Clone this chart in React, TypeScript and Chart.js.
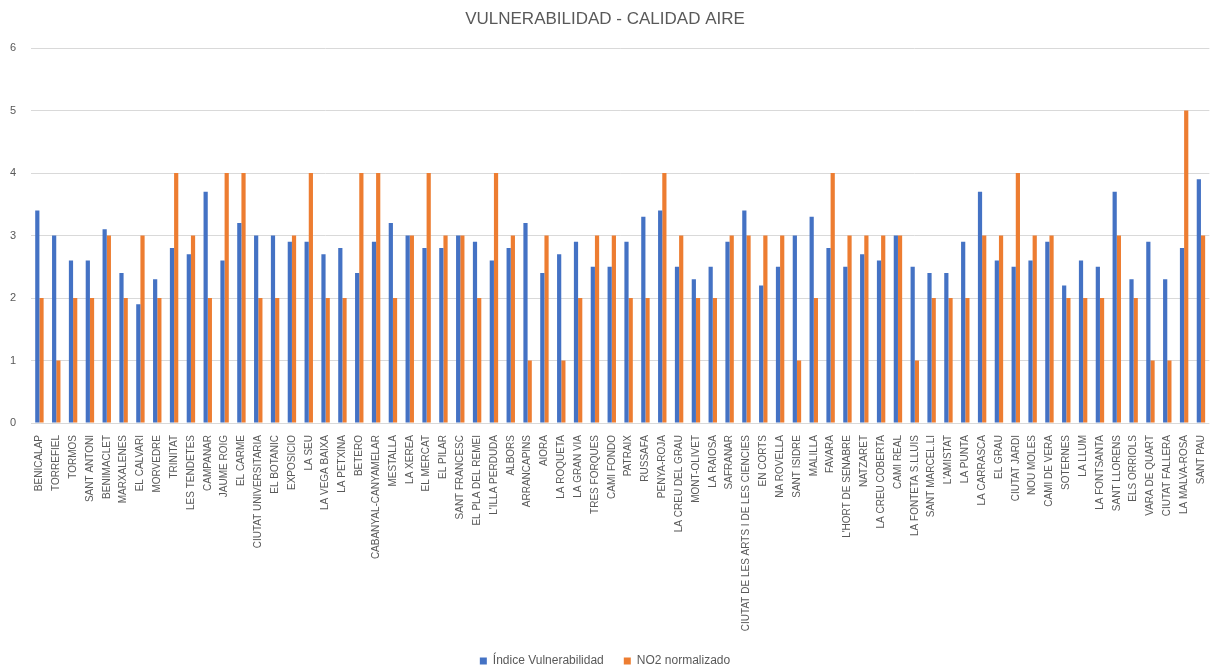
import React, { useEffect, useRef } from "react";
import { Chart, registerables } from "chart.js";

Chart.register(...registerables);

const categories: string[] = [
  "BENICALAP", "TORREFIEL", "TORMOS", "SANT ANTONI", "BENIMACLET", "MARXALENES", "EL CALVARI", "MORVEDRE",
  "TRINITAT", "LES TENDETES", "CAMPANAR", "JAUME ROIG", "EL CARME", "CIUTAT UNIVERSITARIA", "EL BOTANIC",
  "EXPOSICIO", "LA SEU", "LA VEGA BAIXA", "LA PETXINA", "BETERO", "CABANYAL-CANYAMELAR", "MESTALLA",
  "LA XEREA", "EL MERCAT", "EL PILAR", "SANT FRANCESC", "EL PLA DEL REMEI", "L'ILLA PERDUDA", "ALBORS",
  "ARRANCAPINS", "AIORA", "LA ROQUETA", "LA GRAN VIA", "TRES FORQUES", "CAMI FONDO", "PATRAIX", "RUSSAFA",
  "PENYA-ROJA", "LA CREU DEL GRAU", "MONT-OLIVET", "LA RAIOSA", "SAFRANAR",
  "CIUTAT DE LES ARTS I DE LES CIENCIES", "EN CORTS", "NA ROVELLA", "SANT ISIDRE", "MALILLA", "FAVARA",
  "L'HORT DE SENABRE", "NATZARET", "LA CREU COBERTA", "CAMI REAL", "LA FONTETA S.LLUIS", "SANT MARCEL.LI",
  "L'AMISTAT", "LA PUNTA", "LA CARRASCA", "EL GRAU", "CIUTAT JARDI", "NOU MOLES", "CAMI DE VERA",
  "SOTERNES", "LA LLUM", "LA FONTSANTA", "SANT LLORENS", "ELS ORRIOLS", "VARA DE QUART", "CIUTAT FALLERA",
  "LA MALVA-ROSA", "SANT PAU",
];

const indiceVulnerabilidad: number[] = [
  3.4, 3.0, 2.6, 2.6, 3.1, 2.4, 1.9, 2.3, 2.8, 2.7, 3.7, 2.6, 3.2, 3.0, 3.0, 2.9, 2.9, 2.7, 2.8, 2.4,
  2.9, 3.2, 3.0, 2.8, 2.8, 3.0, 2.9, 2.6, 2.8, 3.2, 2.4, 2.7, 2.9, 2.5, 2.5, 2.9, 3.3, 3.4, 2.5, 2.3,
  2.5, 2.9, 3.4, 2.2, 2.5, 3.0, 3.3, 2.8, 2.5, 2.7, 2.6, 3.0, 2.5, 2.4, 2.4, 2.9, 3.7, 2.6, 2.5, 2.6,
  2.9, 2.2, 2.6, 2.5, 3.7, 2.3, 2.9, 2.3, 2.8, 3.9,
];

const no2Normalizado: number[] = [
  2, 1, 2, 2, 3, 2, 3, 2, 4, 3, 2, 4, 4, 2, 2, 3, 4, 2, 2, 4,
  4, 2, 3, 4, 3, 3, 2, 4, 3, 1, 3, 1, 2, 3, 3, 2, 2, 4, 3, 2,
  2, 3, 3, 3, 3, 1, 2, 4, 3, 3, 3, 3, 1, 2, 2, 2, 3, 3, 4, 3,
  3, 2, 2, 2, 3, 2, 1, 1, 5, 3,
];

const yTicks: number[] = [0, 1, 2, 3, 4, 5, 6];

const TEXT = "#595959";
const FONT = "'Liberation Sans', Arial, sans-serif";

export default function App() {
  const ref = useRef<HTMLCanvasElement | null>(null);

  useEffect(() => {
    if (!ref.current) return;
    const chart = new Chart(ref.current, {
      type: "bar",
      data: {
        labels: categories,
        datasets: [
          {
            label: "Índice Vulnerabilidad",
            data: indiceVulnerabilidad,
            backgroundColor: "#4472C4",
            borderWidth: 0,
            barPercentage: 1,
            categoryPercentage: 0.5,
          },
          {
            label: "NO2 normalizado",
            data: no2Normalizado,
            backgroundColor: "#ED7D31",
            borderWidth: 0,
            barPercentage: 1,
            categoryPercentage: 0.5,
          },
        ],
      },
      options: {
        responsive: false,
        animation: false,
        layout: { padding: { left: 0, right: 7, top: 0, bottom: -9 } },
        plugins: {
          title: {
            display: true,
            text: "VULNERABILIDAD - CALIDAD AIRE",
            color: TEXT,
            font: { family: FONT, size: 17, weight: "normal" },
            padding: { top: 9, bottom: 18.6 },
          },
          legend: {
            position: "bottom",
            labels: {
              color: TEXT,
              font: { family: FONT, size: 12 },
              boxWidth: 7,
              boxHeight: 7,
              padding: 20,
            },
          },
          tooltip: { enabled: false },
        },
        scales: {
          x: {
            grid: { display: false },
            border: { display: false },
            ticks: {
              autoSkip: false,
              maxRotation: 90,
              minRotation: 90,
              color: TEXT,
              font: { family: FONT, size: 10 },
              padding: 4,
            },
            afterFit: (s: any) => {
              s.height = 212;
            },
          },
          y: {
            min: 0,
            max: 6,
            afterBuildTicks: (s: any) => {
              s.ticks = yTicks.map((v) => ({ value: v }));
            },
            grid: { color: "#D9D9D9", lineWidth: 1, drawTicks: false },
            border: { display: false },
            ticks: {
              color: TEXT,
              font: { family: FONT, size: 11 },
              padding: 15,
            },
            afterFit: (s: any) => {
              s.width = 31;
            },
          },
        },
      },
    });
    return () => chart.destroy();
  }, []);

  return (
    <div style={{ position: "fixed", left: 0, top: 0, width: 1217, height: 668, background: "#fff" }}>
      <canvas ref={ref} width={1217} height={668} />
    </div>
  );
}
